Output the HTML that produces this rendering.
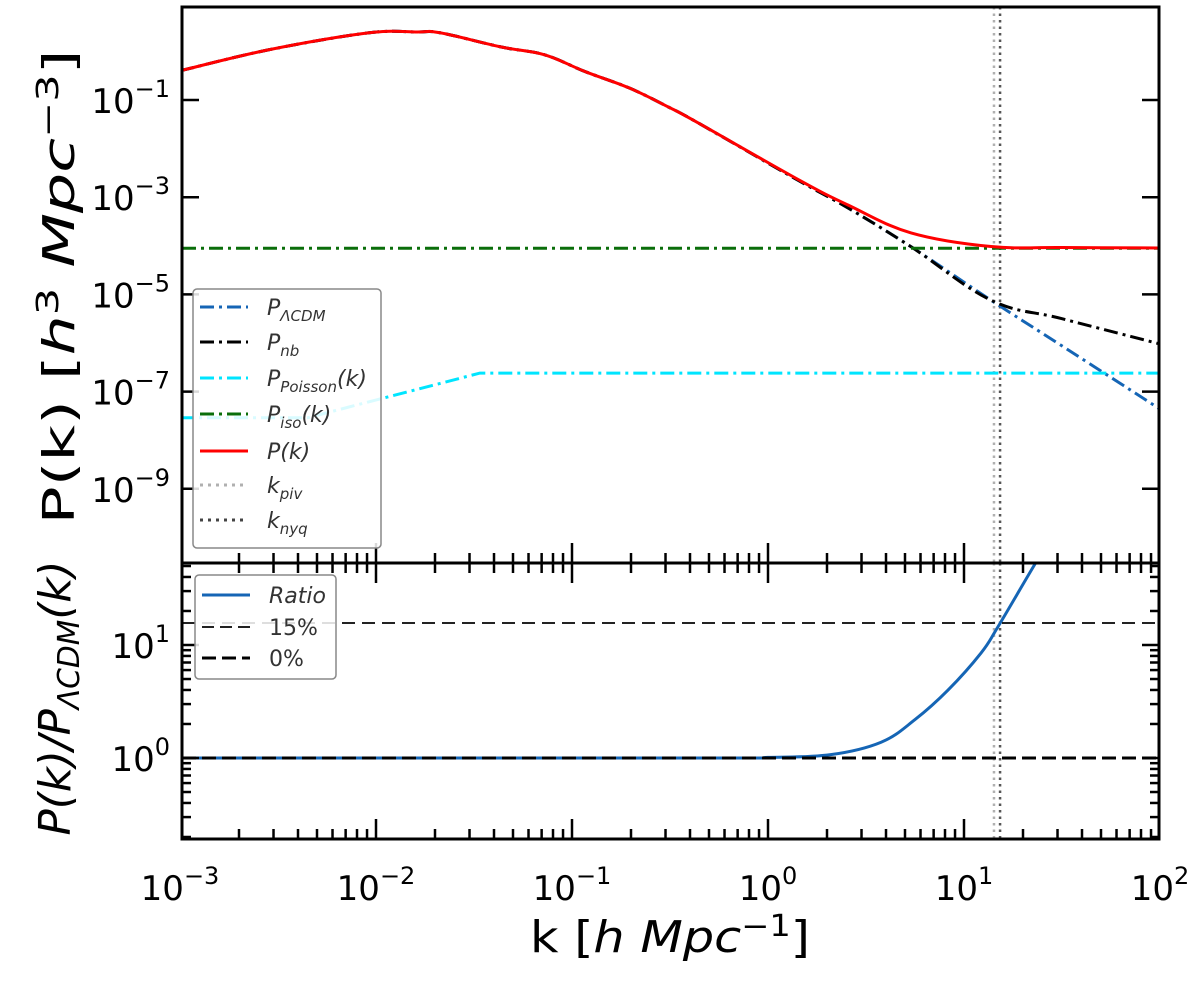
<!DOCTYPE html>
<html><head><meta charset="utf-8"><style>
html,body{margin:0;padding:0;background:#fff;}
svg{display:block;font-family:"DejaVu Sans","Liberation Sans",sans-serif;}
</style></head><body>
<svg id="chart" width="1200" height="984" viewBox="0 0 1200 984" xmlns="http://www.w3.org/2000/svg">
<g id="topPanel"></g>
<g id="botPanel"></g>
<g id="axes"></g>
<text transform="translate(74,287) rotate(-90)" text-anchor="middle" font-size="44" textLength="475" lengthAdjust="spacingAndGlyphs">P(k) [<tspan font-style="italic">h</tspan><tspan font-size="30" dy="-16">3</tspan><tspan dy="16"> </tspan><tspan font-style="italic">Mpc</tspan><tspan font-size="30" dy="-16">−3</tspan><tspan dy="16">]</tspan></text>
<text transform="translate(70,698) rotate(-90)" text-anchor="middle" font-size="44" font-style="italic" textLength="275" lengthAdjust="spacingAndGlyphs">P(k)/P<tspan font-size="30" dy="9">ΛCDM</tspan><tspan dy="-9">(k)</tspan></text>
<text x="670" y="952" text-anchor="middle" font-size="44" textLength="280" lengthAdjust="spacingAndGlyphs">k [<tspan font-style="italic">h</tspan> <tspan font-style="italic">Mpc</tspan><tspan font-size="30" dy="-16">−1</tspan><tspan dy="16">]</tspan></text>
</svg>
<script>
// ---- data ----
const lcdmLogK = [-3,-2.55,-2.04,-1.79,-1.67,-1.36,-1.14,-0.93,-0.71,-0.51,-0.357,0.153,0.408,0.73,1.138,1.5,2];
const lcdmLogP = [-0.40,0.03,0.38,0.40,0.38,0.09,-0.07,-0.42,-0.75,-1.14,-1.47,-2.65,-3.22,-4.02,-5.12,-6.06,-7.36];
const nbLogK = [1.138,1.5,2];
const nbLogP = [-5.12,-5.50,-6.02];
const poissonLogK = [-3,-2.35,-1.47,2];
const poissonLogP = [-7.54,-7.54,-6.62,-6.62];
const isoLogP = -4.05;
const ratioLogK = [-3,-0.3,0,0.32,0.577,0.75,0.918,1.087,1.173,1.367,1.5];
const ratioLogR = [0,0,0.005,0.03,0.14,0.34,0.60,0.93,1.16,1.73,2.1];
const line15LogR = 1.195;
const kPivLog = 1.153;
const kNyqLog = 1.184;
const xTickExps = [-3,-2,-1,0,1,2];
const yTopTickExps = [-1,-3,-5,-7,-9];
const yBotTickExps = [0,1];

// ---- geometry ----
const X0=182, X1=1159, TT=7, TB=563, BB=839;
const NS="http://www.w3.org/2000/svg";
const sx = lk => 768 + 196*lk;
const syTop = lp => 100 - (lp+1)*48.6;
const syBot = lr => 758 - 113*lr;
function mk(tag, attrs, parent){const e=document.createElementNS(NS,tag);for(const k in attrs)e.setAttribute(k,attrs[k]);parent.appendChild(e);return e;}
const svgEl=document.getElementById('chart');
const defs=mk('defs',{},svgEl);
const c1=mk('clipPath',{id:'ct'},defs); mk('rect',{x:X0,y:TT,width:X1-X0,height:TB-TT},c1);
const c2=mk('clipPath',{id:'cb'},defs); mk('rect',{x:X0,y:TB,width:X1-X0,height:BB-TB},c2);
const topG=document.getElementById('topPanel'); topG.setAttribute('clip-path','url(#ct)');
const botG=document.getElementById('botPanel'); botG.setAttribute('clip-path','url(#cb)');
const axesG=document.getElementById('axes');

function interp(xs,ys,x){for(let i=0;i<xs.length-1;i++){if(x>=xs[i]&&x<=xs[i+1]){const t=(x-xs[i])/(xs[i+1]-xs[i]);return ys[i]+t*(ys[i+1]-ys[i]);}}return ys[ys.length-1];}
function pathFrom(xs,ys,fx,fy){return xs.map((v,i)=>(i?'L':'M')+fx(v).toFixed(1)+','+fy(ys[i]).toFixed(1)).join(' ');}
function smoothFrom(xs,ys,fx,fy){
  const p=xs.map((v,i)=>[fx(v),fy(ys[i])]);
  let d='M'+p[0][0].toFixed(1)+','+p[0][1].toFixed(1);
  for(let i=0;i<p.length-1;i++){
    const p0=p[i-1]||p[i],p1=p[i],p2=p[i+1],p3=p[i+2]||p[i+1];
    const t=0.18;
    const c1x=p1[0]+(p2[0]-p0[0])*t, c1y=p1[1]+(p2[1]-p0[1])*t;
    const c2x=p2[0]-(p3[0]-p1[0])*t, c2y=p2[1]-(p3[1]-p1[1])*t;
    d+=' C'+c1x.toFixed(1)+','+c1y.toFixed(1)+' '+c2x.toFixed(1)+','+c2y.toFixed(1)+' '+p2[0].toFixed(1)+','+p2[1].toFixed(1);
  }
  return d;
}
const DD='14 5 3 5';

let e;
e=mk('line',{x1:sx(kPivLog),x2:sx(kPivLog),y1:TT,y2:TB,stroke:'#b0b0b0','stroke-width':2.5,'stroke-dasharray':'2.5 4'},topG);


e=mk('line',{x1:sx(kNyqLog),x2:sx(kNyqLog),y1:TT,y2:TB,stroke:'#555','stroke-width':2.5,'stroke-dasharray':'2.5 4'},topG);



e=mk('path',{d:smoothFrom(lcdmLogK,lcdmLogP,sx,syTop),fill:'none',stroke:'#1565b5','stroke-width':3,'stroke-dasharray':DD},topG);


const nbK=[], nbP=[];
lcdmLogK.forEach((k,i)=>{if(k<nbLogK[0]){nbK.push(k);nbP.push(lcdmLogP[i]);}});
nbLogK.forEach((k,i)=>{nbK.push(k);nbP.push(nbLogP[i]);});
e=mk('path',{d:smoothFrom(nbK,nbP,sx,syTop),fill:'none',stroke:'#000','stroke-width':3,'stroke-dasharray':DD},topG);


e=mk('path',{d:pathFrom(poissonLogK,poissonLogP,sx,syTop),fill:'none',stroke:'#00e5ff','stroke-width':3,'stroke-dasharray':DD},topG);


e=mk('line',{x1:X0,x2:X1,y1:syTop(isoLogP),y2:syTop(isoLogP),stroke:'#0a6e0a','stroke-width':3,'stroke-dasharray':DD},topG);


const tK=[],tP=[];
nbK.forEach((lk,i)=>{tK.push(lk);tP.push(Math.log10(Math.pow(10,nbP[i])+Math.pow(10,isoLogP)));});
e=mk('path',{d:smoothFrom(tK,tP,sx,syTop),fill:'none',stroke:'#ff0000','stroke-width':3},topG);



e=mk('line',{x1:sx(kPivLog),x2:sx(kPivLog),y1:TB,y2:BB,stroke:'#b0b0b0','stroke-width':2.5,'stroke-dasharray':'2.5 4'},botG);


e=mk('line',{x1:sx(kNyqLog),x2:sx(kNyqLog),y1:TB,y2:BB,stroke:'#555','stroke-width':2.5,'stroke-dasharray':'2.5 4'},botG);


e=mk('path',{d:smoothFrom(ratioLogK,ratioLogR,sx,syBot),fill:'none',stroke:'#1565b5','stroke-width':3},botG);


e=mk('line',{x1:X0,x2:X1,y1:syBot(line15LogR),y2:syBot(line15LogR),stroke:'#222','stroke-width':2,'stroke-dasharray':'13 7'},botG);


e=mk('line',{x1:X0,x2:X1,y1:syBot(0),y2:syBot(0),stroke:'#000','stroke-width':3,'stroke-dasharray':'14 6'},botG);



e=mk('rect',{x:X0,y:TT,width:X1-X0,height:TB-TT,fill:'none',stroke:'#000','stroke-width':3},axesG);


e=mk('rect',{x:X0,y:TB,width:X1-X0,height:BB-TB,fill:'none',stroke:'#000','stroke-width':3},axesG);



const tickG=mk('g',{stroke:'#000','stroke-width':2.5},axesG);


for(let d=-3;d<=2;d++){
  for(let m=1;m<=9;m++){
    const lk=d+Math.log10(m); if(lk>2.0001)continue;
    const x=sx(lk), L=(m===1)?20:10;
    if(!(m===1&&(d===-3||d===2))){
      mk('line',{x1:x,x2:x,y1:TB-L,y2:TB+L},tickG);
      mk('line',{x1:x,x2:x,y1:BB,y2:BB-L},tickG);
    }
  }
}
xTickExps.forEach(d=>{
  const t=mk('text',{x:sx(d),y:900,'text-anchor':'middle','font-size':34,fill:'#000'},axesG);
  
  
  t.innerHTML='10<tspan font-size="24" dy="-16">'+(d<0?'−'+(-d):d)+'</tspan>';
});
yTopTickExps.forEach(d=>{
  const y=syTop(d);
  mk('line',{x1:X0,x2:X0+17,y1:y,y2:y},tickG);
  mk('line',{x1:X1,x2:X1-17,y1:y,y2:y},tickG);
  const t=mk('text',{x:170,y:y+13,'text-anchor':'end','font-size':34,fill:'#000'},axesG);
  
  
  t.innerHTML='10<tspan font-size="24" dy="-16">−'+(-d)+'</tspan>';
});
for(let d=-1;d<=1;d++){for(let m=1;m<=9;m++){const lr=d+Math.log10(m);const y=syBot(lr);if(y<TB+2||y>BB-2)continue;const L=(m===1)?17:9;
  mk('line',{x1:X0,x2:X0+L,y1:y,y2:y},tickG);mk('line',{x1:X1,x2:X1-L,y1:y,y2:y},tickG);}}
yBotTickExps.forEach(d=>{
  const y=syBot(d);
  const t=mk('text',{x:170,y:y+13,'text-anchor':'end','font-size':34,fill:'#000'},axesG);
  
  
  t.innerHTML='10<tspan font-size="24" dy="-16">'+d+'</tspan>';
});

function legend(name,x,y,w,h,items){
  const g=mk('g',{},svgEl);
  
  
  mk('rect',{x:x,y:y,width:w,height:h,rx:4,fill:'#fff','fill-opacity':0.85,stroke:'#888','stroke-width':1.5},g);
  items.forEach(it=>{
    const eg=mk('g',{},g);
    
    
    const a={x1:x+7,x2:x+55,y1:it.y,y2:it.y,stroke:it.c,'stroke-width':it.w||3};
    if(it.d)a['stroke-dasharray']=it.d;
    mk('line',a,eg);
    const t=mk('text',{x:x+74,y:it.y+8,'font-size':22,fill:'#333','font-style':it.it?'italic':'normal'},eg);
    t.innerHTML=it.t;
  });
}
legend('legend-top',193,289,188,259,[
 {y:307,c:'#1565b5',d:'14 5 3 5',t:'P<tspan font-size="15" dy="6">ΛCDM</tspan>',it:1},
 {y:342,c:'#000',d:'14 5 3 5',t:'P<tspan font-size="15" dy="6">nb</tspan>',it:1},
 {y:378,c:'#00e5ff',d:'14 5 3 5',t:'P<tspan font-size="15" dy="6">Poisson</tspan><tspan dy="-6">(k)</tspan>',it:1},
 {y:414,c:'#0a6e0a',d:'14 5 3 5',t:'P<tspan font-size="15" dy="6">iso</tspan><tspan dy="-6">(k)</tspan>',it:1},
 {y:451,c:'#ff0000',t:'P(k)',it:1},
 {y:485,c:'#b0b0b0',d:'3 5',t:'k<tspan font-size="15" dy="6">piv</tspan>',it:1},
 {y:520,c:'#444',d:'3 5',t:'k<tspan font-size="15" dy="6">nyq</tspan>',it:1}
]);
legend('legend-ratio',195,575,141,104,[
 {y:595,c:'#1565b5',t:'Ratio',it:1},
 {y:627,c:'#222',d:'12 6',w:2,t:'15%'},
 {y:658,c:'#000',d:'14 6',t:'0%'}
]);
</script>
</body></html>
